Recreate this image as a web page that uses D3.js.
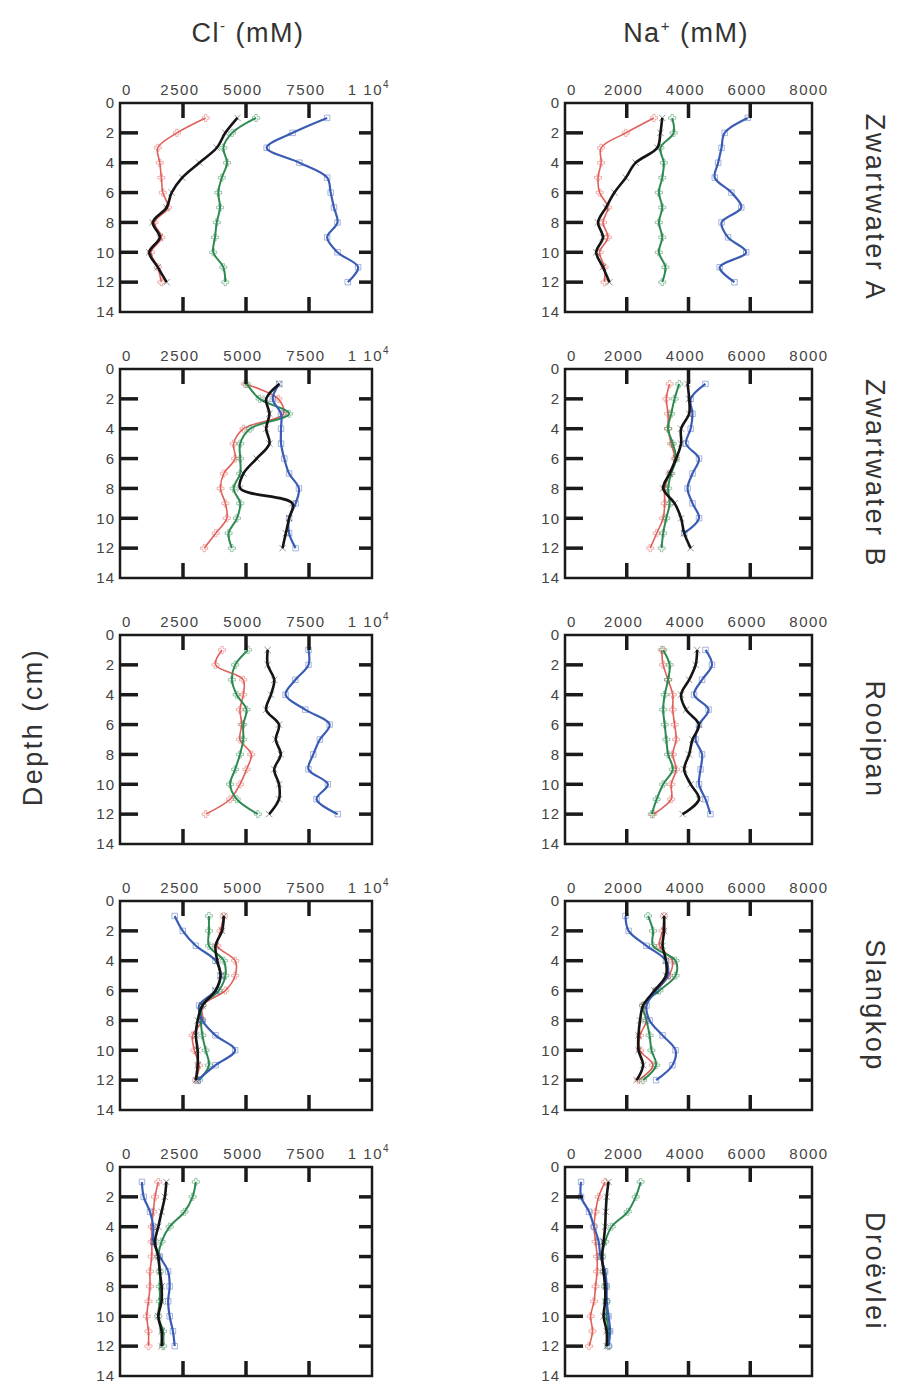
<!DOCTYPE html>
<html>
<head>
<meta charset="utf-8">
<script src="https://cdn.jsdelivr.net/npm/d3@7"></script>
<style>
  body { margin: 0; background: #fff; }
  text { font-family: "Liberation Sans", Arial, sans-serif; }
</style>
</head>
<body>
<svg width="898" height="1384"></svg>
<script>
// depths sampled (cm)
var depths = [1, 2, 3, 4, 5, 6, 7, 8, 9, 10, 11, 12];
var sites = ["Zwartwater A", "Zwartwater B", "Rooipan", "Slangkop", "Droëvlei"];
var clTicks = [0, 2500, 5000, 7500, 10000];
var naTicks = [0, 2000, 4000, 6000, 8000];
var depthTicks = [0, 2, 4, 6, 8, 10, 12, 14];

// series order in each panel : red, green, black, blue
var seriesColors = ["#e0605a", "#2f8a52", "#151515", "#3a5cb5"];
var seriesWidths = [1.6, 2, 2.6, 2.2];
var seriesSymbols = [d3.symbolCross, d3.symbolCross, d3.symbolX, d3.symbolSquare];

// Cl- (mM)
var clZwartwaterA = [
  [3400, 2260, 1500, 1580, 1640, 1700, 1900, 1370, 1640, 1230, 1500, 1640],
  [5400, 4450, 4100, 4250, 4040, 3900, 3970, 3840, 3770, 3700, 4100, 4180],
  [4660, 4180, 3840, 3150, 2470, 2050, 1850, 1300, 1580, 1160, 1500, 1850],
  [8220, 6850, 5820, 7120, 8220, 8360, 8490, 8630, 8220, 8630, 9450, 9040]
];
var clZwartwaterB = [
  [4960, 6280, 6480, 4900, 4510, 4570, 4120, 3990, 4180, 4240, 3800, 3340],
  [5030, 5540, 6710, 5160, 4770, 4770, 4770, 4510, 4770, 4640, 4310, 4440],
  [6320, 5800, 5930, 5800, 5930, 5420, 4900, 4770, 6840, 6710, 6580, 6450],
  [6320, 6060, 6390, 6390, 6390, 6520, 6710, 7100, 6970, 6710, 6710, 6970]
];
var clRooipan = [
  [4050, 3790, 4890, 4890, 4760, 4830, 4760, 5210, 5020, 4760, 4370, 3400],
  [5080, 4570, 4440, 4630, 5020, 4890, 4890, 4760, 4570, 4370, 4630, 5470],
  [5860, 5860, 6120, 5990, 5800, 6310, 6180, 6380, 6120, 6310, 6310, 5920],
  [7480, 7480, 6960, 6570, 7350, 8320, 7930, 7670, 7480, 8250, 7800, 8640]
];
var clSlangkop = [
  [4120, 3990, 3860, 4570, 4570, 4180, 3270, 3270, 2880, 2950, 3140, 3010],
  [3530, 3530, 3530, 4120, 4180, 3920, 3270, 3210, 3270, 3400, 3530, 3140],
  [4120, 4050, 3790, 3860, 3990, 3790, 3270, 3080, 3010, 3080, 3080, 3010],
  [2170, 2490, 3010, 3790, 3990, 3790, 3140, 3270, 3790, 4570, 3790, 3080]
];
var clDroevlei = [
  [1520, 1390, 1320, 1260, 1260, 1260, 1190, 1190, 1130, 1060, 1130, 1130],
  [3010, 2880, 2560, 1970, 1650, 1520, 1580, 1580, 1580, 1520, 1710, 1710],
  [1840, 1780, 1650, 1520, 1390, 1520, 1580, 1650, 1650, 1520, 1650, 1650],
  [870, 940, 1190, 1320, 1320, 1580, 1910, 1970, 1910, 1970, 2100, 2170]
];

// Na+ (mM)
var naZwartwaterA = [
  [2880, 1970, 1170, 1170, 1070, 1120, 1390, 1230, 1390, 1120, 1280, 1280],
  [3470, 3520, 3090, 3200, 3150, 3040, 3150, 3040, 3150, 3040, 3250, 3150],
  [3150, 3090, 2990, 2290, 1970, 1600, 1330, 1070, 1230, 1010, 1230, 1440],
  [5920, 5170, 5070, 4960, 4850, 5390, 5710, 5070, 5280, 5870, 5010, 5490]
];
var naZwartwaterB = [
  [3390, 3280, 3340, 3340, 3440, 3550, 3390, 3230, 3230, 3180, 2970, 2760],
  [3700, 3550, 3440, 3340, 3490, 3600, 3440, 3340, 3390, 3280, 3180, 3130],
  [3970, 4020, 4020, 3760, 3760, 3600, 3390, 3180, 3550, 3760, 3860, 4070],
  [4550, 4070, 4130, 4070, 3920, 4340, 4130, 3970, 4130, 4340, 3860]
];
var naRooipan = [
  [3130, 3180, 3340, 3490, 3490, 3550, 3600, 3490, 3600, 3440, 3440, 2860],
  [3180, 3390, 3340, 3230, 3180, 3230, 3280, 3340, 3490, 3180, 2970, 2810],
  [4280, 4230, 4020, 3760, 3920, 4340, 4130, 4020, 3860, 4070, 4340, 3810],
  [4550, 4760, 4440, 4180, 4650, 4340, 4230, 4440, 4390, 4340, 4550, 4710]
];
var naSlangkop = [
  [3210, 3160, 3060, 3480, 3370, 2950, 2530, 2640, 2430, 2430, 2850, 2380],
  [2690, 2850, 2850, 3580, 3580, 3060, 2530, 2640, 2740, 2800, 2950, 2530],
  [3210, 3210, 3160, 3270, 3270, 2900, 2530, 2430, 2380, 2380, 2530, 2320],
  [1960, 2060, 2640, 3270, 3320, 2950, 2640, 2740, 3160, 3580, 3480, 2950]
];
var naDroevlei = [
  [1300, 1090, 990, 940, 990, 1040, 1040, 990, 940, 830, 890, 780],
  [2450, 2290, 2030, 1510, 1300, 1200, 1250, 1300, 1350, 1350, 1410, 1410],
  [1410, 1350, 1320, 1300, 1250, 1200, 1250, 1300, 1300, 1250, 1350, 1350],
  [520, 520, 780, 940, 1090, 1150, 1300, 1350, 1350, 1410, 1460, 1410]
];

var clRows = [clZwartwaterA, clZwartwaterB, clRooipan, clSlangkop, clDroevlei];
var naRows = [naZwartwaterA, naZwartwaterB, naRooipan, naSlangkop, naDroevlei];

var svg = d3.select("svg");

// panel layout
var panelH = 209, rowTop0 = 103, rowStep = 266;
var columns = [
  { left: 120, right: 372, max: 10000, ticks: clTicks, rows: clRows },
  { left: 565, right: 812, max: 8000, ticks: naTicks, rows: naRows }
];

function tickLabel(sel, v) {
  if (v === 10000) {
    sel.text("1 10");
    sel.append("tspan").attr("dy", -7).style("font-size", "10px").text("4");
  } else {
    sel.text(v);
  }
}

columns.forEach(function (col) {
  col.rows.forEach(function (series, r) {
    var top = rowTop0 + r * rowStep;
    var x = d3.scaleLinear().domain([0, col.max]).range([col.left, col.right]);
    var y = d3.scaleLinear().domain([0, 14]).range([top, top + panelH]);

    var g = svg.append("g");

    // data lines
    var drawOrder = [0, 1, 3, 2];
    drawOrder.forEach(function (k) {
      var vals = series[k];
      var pts = vals.map(function (v, i) { return [v, depths[i]]; });
      var line = d3.line()
        .curve(d3.curveCatmullRom.alpha(0.5))
        .x(function (d) { return x(d[0]); })
        .y(function (d) { return y(d[1]); });
      g.append("path")
        .datum(pts)
        .attr("fill", "none")
        .attr("stroke", seriesColors[k])
        .attr("stroke-width", seriesWidths[k])
        .attr("stroke-linejoin", "round")
        .attr("d", line);
      g.selectAll(null)
        .data(pts)
        .enter().append("path")
        .attr("transform", function (d) { return "translate(" + x(d[0]) + "," + y(d[1]) + ")"; })
        .attr("d", d3.symbol().type(seriesSymbols[k]).size(k == 3 ? 30 : 28))
        .attr("fill", "none")
        .attr("stroke", seriesColors[k])
        .attr("stroke-opacity", 0.45)
        .attr("stroke-width", 1);
    });

    // frame
    g.append("rect")
      .attr("x", col.left).attr("y", top)
      .attr("width", col.right - col.left).attr("height", panelH)
      .attr("fill", "none").attr("stroke", "#1a1a1a").attr("stroke-width", 2.5);

    // inward ticks
    var inner = col.ticks.slice(1, -1);
    g.selectAll(null).data(inner).enter().append("line")
      .attr("x1", function (d) { return x(d); }).attr("x2", function (d) { return x(d); })
      .attr("y1", top).attr("y2", top + 15)
      .attr("stroke", "#1a1a1a").attr("stroke-width", 3.5);
    g.selectAll(null).data(inner).enter().append("line")
      .attr("x1", function (d) { return x(d); }).attr("x2", function (d) { return x(d); })
      .attr("y1", top + panelH).attr("y2", top + panelH - 15)
      .attr("stroke", "#1a1a1a").attr("stroke-width", 3.5);
    var dInner = depthTicks.slice(1, -1);
    g.selectAll(null).data(dInner).enter().append("line")
      .attr("x1", col.left).attr("x2", col.left + 18)
      .attr("y1", function (d) { return y(d); }).attr("y2", function (d) { return y(d); })
      .attr("stroke", "#1a1a1a").attr("stroke-width", 3.5);
    g.selectAll(null).data(dInner).enter().append("line")
      .attr("x1", col.right).attr("x2", col.right - 13)
      .attr("y1", function (d) { return y(d); }).attr("y2", function (d) { return y(d); })
      .attr("stroke", "#1a1a1a").attr("stroke-width", 3.5);

    // tick labels
    g.selectAll(null).data(col.ticks).enter().append("text")
      .attr("x", function (d) { return x(d) + (d === 0 ? 2 : -3); })
      .attr("y", top - 8)
      .attr("text-anchor", function (d) { return d === 0 ? "start" : "middle"; })
      .style("font-size", "15px").style("letter-spacing", "1.5px")
      .attr("fill", "#444")
      .each(function (d) { tickLabel(d3.select(this), d); });
    g.selectAll(null).data(depthTicks).enter().append("text")
      .attr("x", col.left - 5)
      .attr("y", function (d) { return y(d); })
      .attr("dy", "0.35em")
      .attr("text-anchor", "end")
      .style("font-size", "15px").style("letter-spacing", "1px")
      .attr("fill", "#444")
      .text(function (d) { return d; });
  });
});

// column titles
var t1 = svg.append("text").attr("x", 248).attr("y", 42).attr("text-anchor", "middle")
  .style("font-size", "27px").style("letter-spacing", "1.5px").attr("fill", "#333").text("Cl");
t1.append("tspan").attr("dy", -11).style("font-size", "15px").text("-");
t1.append("tspan").attr("dy", 11).text(" (mM)");
var t2 = svg.append("text").attr("x", 686).attr("y", 42).attr("text-anchor", "middle")
  .style("font-size", "27px").style("letter-spacing", "1.5px").attr("fill", "#333").text("Na");
t2.append("tspan").attr("dy", -11).style("font-size", "15px").text("+");
t2.append("tspan").attr("dy", 11).text(" (mM)");

// site names on the right
sites.forEach(function (s, r) {
  var cy = rowTop0 + r * rowStep + panelH / 2;
  svg.append("text")
    .attr("transform", "translate(866," + cy + ") rotate(90)")
    .attr("text-anchor", "middle")
    .style("font-size", "27px").style("letter-spacing", "2.5px")
    .attr("fill", "#333")
    .text(s);
});

// depth label
svg.append("text")
  .attr("transform", "translate(42,727) rotate(-90)")
  .attr("text-anchor", "middle")
  .style("font-size", "27px").style("letter-spacing", "2.5px")
  .attr("fill", "#333")
  .text("Depth (cm)");
</script>
</body>
</html>
